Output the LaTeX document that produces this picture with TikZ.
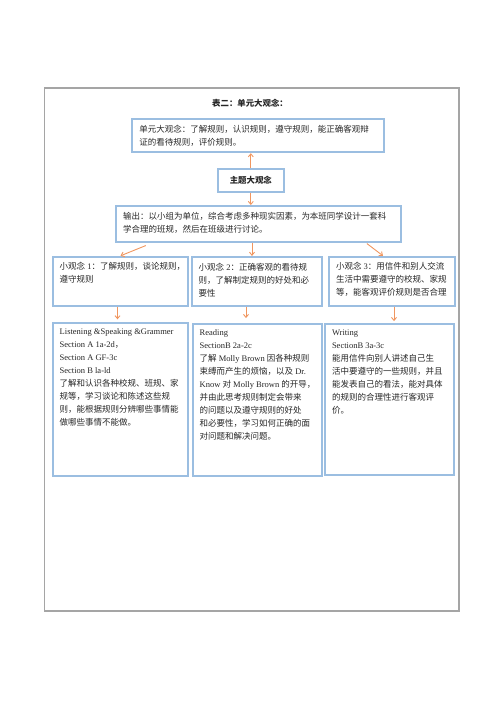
\documentclass[tikz,border=0pt]{standalone}
\usepackage{fontspec}
\setmainfont{Liberation Serif}
\newfontfamily\zh{Noto Sans CJK SC}
\newfontfamily\lat{Liberation Serif}
\usetikzlibrary{arrows.meta,calc,positioning}
\definecolor{BoxBlue}{RGB}{155,190,225}
\definecolor{FlowOrange}{RGB}{240,150,95}
\definecolor{FrameGray}{RGB}{165,165,165}
\colorlet{TextGray}{black!85}

% text block of a box: width, height, content
\newcommand{\ideatext}[3]{\parbox[c][#2][t]{#1}{\zh\fontsize{8.5}{13}\selectfont #3}}

\tikzset{
  idea/.style={draw=BoxBlue, line width=1.8pt, inner xsep=7pt, inner ysep=6pt, text=TextGray},
  flow/.style={draw=FlowOrange, line width=0.9pt, -{Straight Barb[length=3pt,width=5pt]}}
}

\begin{document}
\begin{tikzpicture}[x=1pt,y=-1pt]
\useasboundingbox (0,0) rectangle (500,707);

% outer frame
\draw[FrameGray, line width=1.3pt] (44.5,88) rectangle (459,611);

% title
\node[font=\zh\bfseries\fontsize{8.4}{10}\selectfont, text=TextGray] (title) at (250,103) {表二：单元大观念：};

% unit idea
\node[idea] (unit) at (258.2,135.8) {\ideatext{237.7pt}{21pt}{单元大观念：了解规则，认识规则，遵守规则，能正确客观辩\\证的看待规则，评价规则。}};

% theme
\node[idea, minimum width=66.3pt, minimum height=22.7pt, inner sep=0pt,
      font=\zh\bfseries\fontsize{8.4}{10}\selectfont] (theme) at (250.8,180.3) {主题大观念};

% output
\node[idea] (output) at (258.5,223.8) {\ideatext{271pt}{23.7pt}{输出：以小组为单位，综合考虑多种现实因素，为本班同学设计一套科\\学合理的班规，然后在班级进行讨论。}};

% small ideas
\node[idea] (small1) at (120.5,281.2) {\ideatext{121.6pt}{37pt}{\mbox{小观念{\lat~1}：了解规则，谈论规则，}\\遵守规则}};
\node[idea] (small2) at (256.7,281.3) {\ideatext{116pt}{37pt}{\mbox{小观念{\lat~2}：正确客观的看待规}\\则，了解制定规则的好处和必\\要性}};
\node[idea] (small3) at (392,281.2) {\ideatext{112pt}{37pt}{\mbox{小观念{\lat~3}：用信件和别人交流}\\生活中需要遵守的校规、家规\\等，能客观评价规则是否合理}};

% sections
\node[idea] (big1) at (120.5,399.2) {\ideatext{121.6pt}{141pt}{{\lat Listening \&Speaking \&Grammer}\\
{\lat Section A 1a-2d}，\\
{\lat Section A GF-3c}\\
{\lat Section B la-ld}\\
了解和认识各种校规、班规、家\\
规等，学习谈论和陈述这些规\\
则，能根据规则分辨哪些事情能\\
做哪些事情不能做。}};
\node[idea] (big2) at (257.2,399.8) {\ideatext{115pt}{139.7pt}{{\lat Reading}\\
{\lat SectionB 2a-2c}\\
\mbox{了解{\lat~Molly Brown~}因各种规则}\\
\mbox{束缚而产生的烦恼，以及{\lat~Dr.}}\\
\mbox{{\lat Know~}对{\lat~Molly Brown~}的开导，}\\
并由此思考规则制定会带来\\
的问题以及遵守规则的好处\\
和必要性，学习如何正确的面\\
对问题和解决问题。}};
\node[idea] (big3) at (389.5,399.5) {\ideatext{115pt}{139pt}{{\lat Writing}\\
{\lat SectionB 3a-3c}\\
能用信件向别人讲述自己生\\
活中要遵守的一些规则，并且\\
能发表自己的看法，能对具体\\
的规则的合理性进行客观评\\
价。}};

% arrows
\draw[flow] (theme.north) -- (theme.north |- unit.south);
\draw[flow] (theme.south) -- (theme.south |- output.north);

\coordinate (o1) at ([xshift=30.7pt,yshift=-3pt]output.south west);
\coordinate (o2) at ([xshift=-6.5pt]output.south);
\coordinate (o3) at ([xshift=-35pt,yshift=-1pt]output.south east);
\draw[flow] (o1) -- (small1.north);
\draw[flow] (o2) -- (o2 |- small2.north);
\draw[flow] (o3) -- ([xshift=-9pt]small3.north);

\draw[flow, shorten >=2.5pt] ([xshift=-3pt]small1.south) -- ([xshift=-3pt]small1.south |- big1.north);
\draw[flow, shorten >=5pt] ([xshift=-10.7pt]small2.south) -- ([xshift=-10.7pt]small2.south |- big2.north);
\draw[flow, shorten >=2pt] ([xshift=2pt]small3.south) -- ([xshift=2pt]small3.south |- big3.north);

\end{tikzpicture}
\end{document}
